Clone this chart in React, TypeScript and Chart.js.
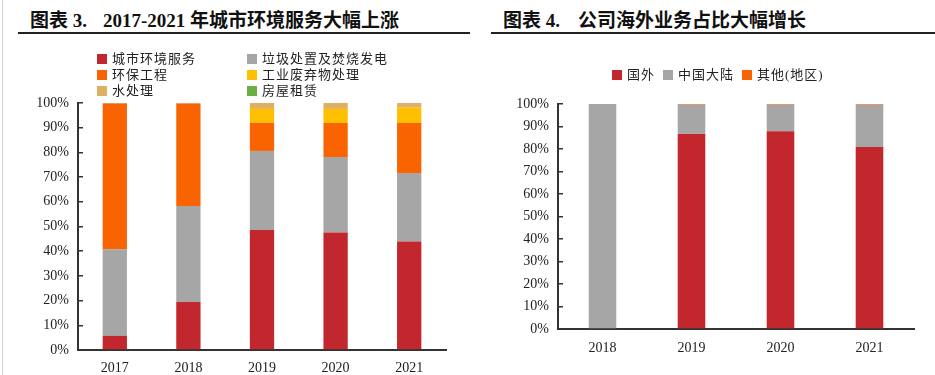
import React, { useEffect, useRef } from "react";
import { Chart, registerables } from "chart.js";
Chart.register(...registerables);

// ---- Chart 3 data (percent of revenue) ----
const years3 = ["2017", "2018", "2019", "2020", "2021"];
const names3 = ["城市环境服务", "垃圾处置及焚烧发电", "环保工程", "工业废弃物处理", "水处理", "房屋租赁"];
const colors3 = ["#C1272D", "#A6A6A6", "#FA6400", "#FFC000", "#DDB064", "#6AAF45"];
const urbanService = [5.7, 19.4, 48.6, 47.6, 43.9];
const wasteIncineration = [35.1, 38.9, 32.0, 30.5, 27.8];
const envEngineering = [59.0, 41.5, 11.4, 13.8, 20.2];
const industrialWaste = [0, 0, 5.6, 5.7, 6.2];
const waterTreatment = [0, 0.2, 2.4, 2.4, 1.9];
const housingRental = [0.2, 0, 0, 0, 0];
const series3 = [urbanService, wasteIncineration, envEngineering, industrialWaste, waterTreatment, housingRental];

// ---- Chart 4 data ----
const years4 = ["2018", "2019", "2020", "2021"];
const names4 = ["国外", "中国大陆", "其他(地区)"];
const colors4 = ["#C1272D", "#A6A6A6", "#FA6400"];
const overseas = [0, 86.7, 87.9, 80.9];
const mainland = [100, 13.0, 11.8, 18.8];
const otherRegion = [0, 0.3, 0.3, 0.3];
const series4 = [overseas, mainland, otherRegion];

const yTicks = [0, 10, 20, 30, 40, 50, 60, 70, 80, 90, 100];

const SERIF = '"Liberation Serif", "Times New Roman", serif';
const CJK = '"Liberation Serif", "Noto Sans CJK SC", serif';

function makeConfig(labels: string[], names: string[], colors: string[], series: number[][], barPct: number, pad: any, xHeight: number, xPad: number): any {
  return {
    type: "bar",
    data: {
      labels,
      datasets: series.map((d, i) => ({
        label: names[i],
        data: d,
        backgroundColor: colors[i],
        borderWidth: 0,
        barPercentage: barPct,
        categoryPercentage: 1,
      })),
    },
    options: {
      animation: false,
      responsive: false,
      maintainAspectRatio: false,
      layout: { padding: pad },
      plugins: { legend: { display: false }, tooltip: { enabled: false } },
      scales: {
        x: {
          stacked: true,
          grid: { display: false, drawTicks: false },
          border: { display: true, color: "#333", width: 2 },
          ticks: { color: "#222", font: { family: SERIF, size: 14 }, padding: xPad },
          afterFit: (s: any) => { s.height = xHeight; },
        },
        y: {
          stacked: true,
          min: 0,
          max: 100,
          afterBuildTicks: (s: any) => { s.ticks = yTicks.map((v) => ({ value: v })); },
          ticks: { color: "#222", font: { family: SERIF, size: 14 }, padding: 14, callback: (v: any) => v + "%" },
          grid: { drawOnChartArea: false, drawTicks: true, tickLength: -5, color: "#333", lineWidth: 1.5 },
          border: { display: true, color: "#333", width: 2 },
          afterFit: (s: any) => { s.width = 78; },
        },
      },
    },
  };
}

function Box({ color }: { color: string }) {
  return <span style={{ display: "inline-block", width: 10, height: 10, background: color, marginRight: 5, verticalAlign: "middle" }} />;
}

export default function App() {
  const ref3 = useRef<HTMLCanvasElement>(null);
  const ref4 = useRef<HTMLCanvasElement>(null);

  useEffect(() => {
    const c3 = new Chart(ref3.current as HTMLCanvasElement, makeConfig(years3, names3, colors3, series3, 0.33, { top: 103, left: 0, right: 24, bottom: 0 }, 25, 10));
    const c4 = new Chart(ref4.current as HTMLCanvasElement, makeConfig(years4, names4, colors4, series4, 0.31, { top: 104, left: 0, right: 21, bottom: 0 }, 46, 11));
    return () => { c3.destroy(); c4.destroy(); };
  }, []);

  const legend3Pos = [
    [97, 58], [247, 58],
    [97, 74], [247, 74],
    [97, 90], [247, 90],
  ];

  const titleStyle: any = { position: "absolute", top: 9, lineHeight: "24px", fontSize: 19, fontWeight: "bold", fontFamily: CJK, color: "#111", whiteSpace: "nowrap" };
  const legendText: any = { fontFamily: CJK, fontSize: 13, letterSpacing: 1, color: "#222", verticalAlign: "middle" };

  return (
    <div style={{ position: "absolute", left: 0, top: 0, width: 935, height: 375, background: "#fff", overflow: "hidden" }}>
      <div style={{ position: "absolute", left: 2, top: 0, width: 1, height: 375, background: "#d4d4d4" }} />
      <div style={{ ...titleStyle, left: 30 }}>图表 3.</div>
      <div style={{ ...titleStyle, left: 103 }}>2017-2021 年城市环境服务大幅上涨</div>
      <div style={{ ...titleStyle, left: 503 }}>图表 4.</div>
      <div style={{ ...titleStyle, left: 578 }}>公司海外业务占比大幅增长</div>
      <div style={{ position: "absolute", left: 18, top: 32, width: 452, height: 2, background: "#222" }} />
      <div style={{ position: "absolute", left: 491, top: 32, width: 444, height: 2, background: "#222" }} />

      <canvas ref={ref3} width={470} height={375} style={{ position: "absolute", left: 0, top: 0, width: 470, height: 375 }} />
      <canvas ref={ref4} width={455} height={375} style={{ position: "absolute", left: 480, top: 0, width: 455, height: 375 }} />

      {names3.map((n, i) => (
        <div key={n} style={{ position: "absolute", left: legend3Pos[i][0], top: legend3Pos[i][1] - 9, height: 18, lineHeight: "18px", whiteSpace: "nowrap" }}>
          <Box color={colors3[i]} />
          <span style={legendText}>{n}</span>
        </div>
      ))}

      <div style={{ position: "absolute", left: 612, top: 65, height: 18, lineHeight: "18px", whiteSpace: "nowrap" }}>
        {names4.map((n, i) => (
          <span key={n} style={{ marginRight: 8 }}>
            <Box color={colors4[i]} />
            <span style={legendText}>{n}</span>
          </span>
        ))}
      </div>
    </div>
  );
}
